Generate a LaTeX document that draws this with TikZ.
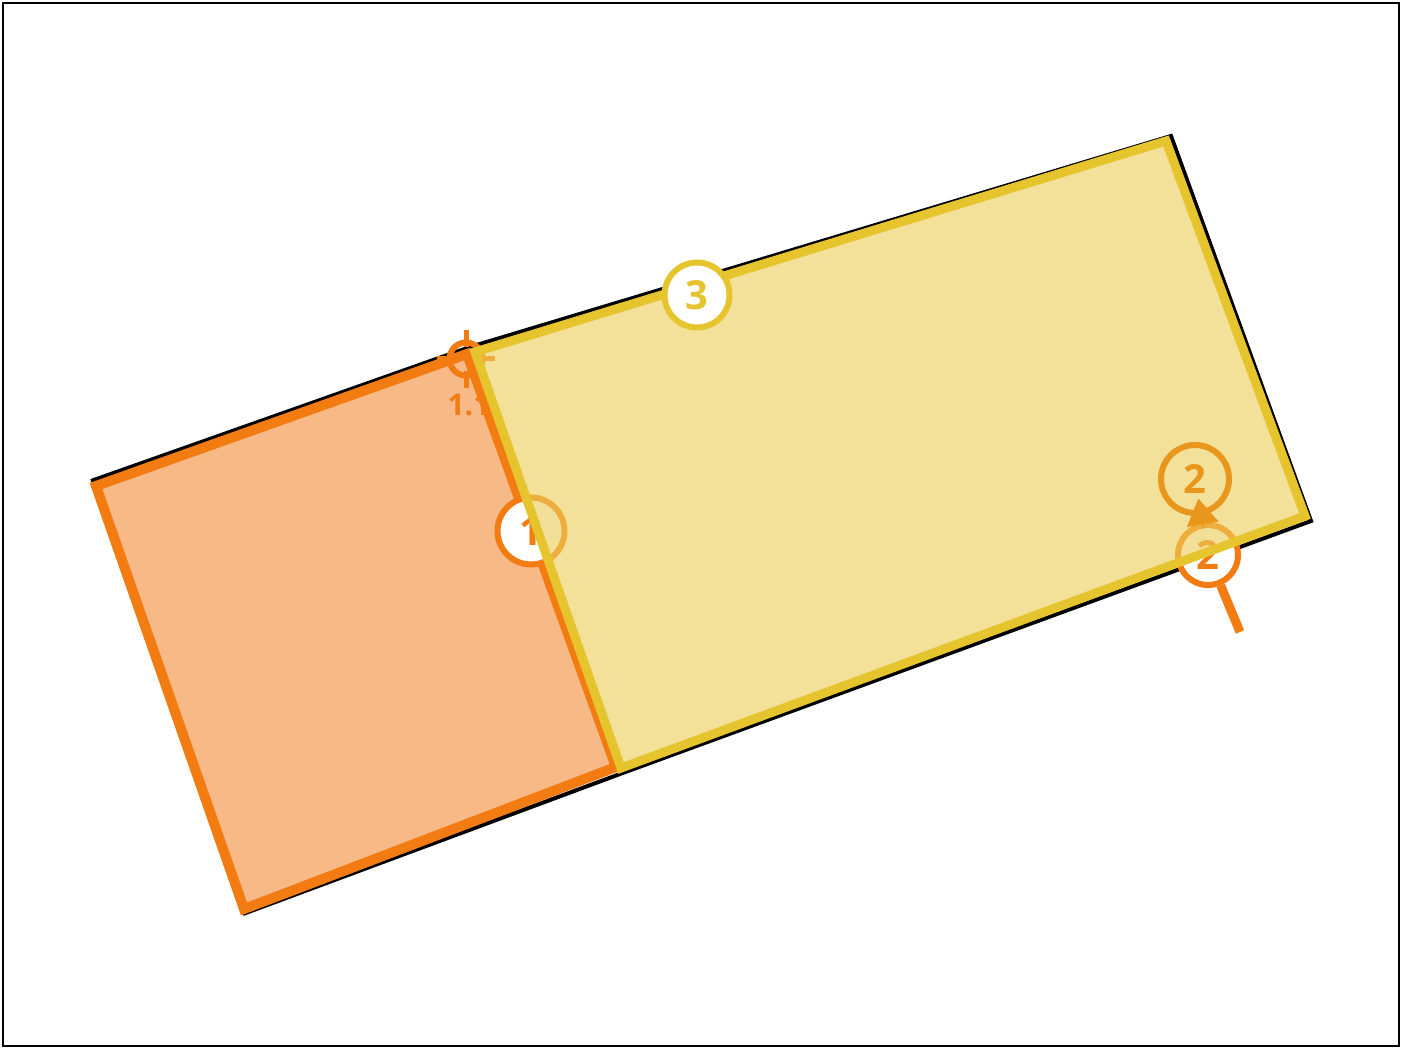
\documentclass[tikz,border=0pt]{standalone}
\usepackage{fontspec}
\setsansfont{Open Sans}
\usepackage{tikz}
\usetikzlibrary{arrows.meta}

\definecolor{mkorange}{HTML}{F27B12}
\definecolor{mkorangefill}{HTML}{F7BA87}
\definecolor{mkyellow}{HTML}{E6C42E}
\definecolor{mkyellowfill}{HTML}{EBCE5A}
\definecolor{mkamber}{HTML}{E8961C}

\begin{document}
\begin{tikzpicture}[
    x=1pt, y=-1pt,
    font=\sffamily\bfseries,
    outline/.style={draw=black, line width=4pt},
    orangepart/.style={draw=mkorange, fill=mkorangefill, line width=10pt},
    yellowpart/.style={draw=mkyellow, fill=mkyellowfill, fill opacity=0.62, line width=9pt},
    badge/.style={circle, fill=white, line width=6pt, inner sep=0pt, font=\sffamily\bfseries\fontsize{40}{40}\selectfont},
    tick/.style={draw=mkorange, line width=5pt},
    pin/.style={draw=mkorange, line width=9pt},
    lift/.style={-{Triangle[length=26pt,width=32pt]}, draw=mkamber, fill=mkamber, line width=1pt}
]
\useasboundingbox (0,0) rectangle (1405,1048);
\draw[line width=2.5pt] (3,3) rectangle (1399,1046);

% corners of the two parts
\coordinate (otl) at (96,486);
\coordinate (otr) at (467,354);
\coordinate (obr) at (616,767);
\coordinate (obl) at (244,909);
\coordinate (ytl) at (475,352);
\coordinate (ytr) at (1166,141);
\coordinate (ybr) at (1305,516);
\coordinate (ybl) at (621,768);

% black outline behind
\draw[outline] (91,481) -- (470,347) -- (1171,136) -- (1311,521) -- (620,774) -- (243,914);

% orange part
\draw[orangepart] (otl) -- (otr) -- (obr) -- (obl) -- cycle;

\node[circle, draw=mkorange, line width=6pt, minimum size=33pt, inner sep=0pt] (cross11) at (466,359) {};
\draw[tick] (cross11.center) ++(0,-12) -- ++(0,-17);
\draw[tick] (cross11.center) ++(0,12) -- ++(0,17);
\draw[tick] (cross11.center) ++(12,0) -- ++(17,0);
\draw[tick] (cross11.center) ++(-12,0) -- ++(-17,0);
\node[text=mkorange, font=\sffamily\bfseries\fontsize{30}{30}\selectfont] (lbl11) at (469,405) {1.1};

\node[badge, draw=mkorange, text=mkorange, minimum size=67pt] (one) at (531,531) {1};

\coordinate (pin2) at (1240,632);
\node[badge, draw=mkorange, text=mkorange, minimum size=60pt] (low2) at (1208,555) {2};
\draw[pin] (low2) -- (pin2);

% yellow part
\draw[yellowpart] (ytl) -- (ytr) -- (ybr) -- (ybl) -- cycle;

\node[badge, draw=mkyellow, text=mkyellow, minimum size=65pt] (three) at (697,295) {3};
\node[badge, fill=none, draw=mkamber, text=mkamber, minimum size=68pt] (up2) at (1195,479) {2};
\draw[lift, shorten <=27pt, shorten >=20pt] (low2.center) -- (up2.center);

\end{tikzpicture}
\end{document}
